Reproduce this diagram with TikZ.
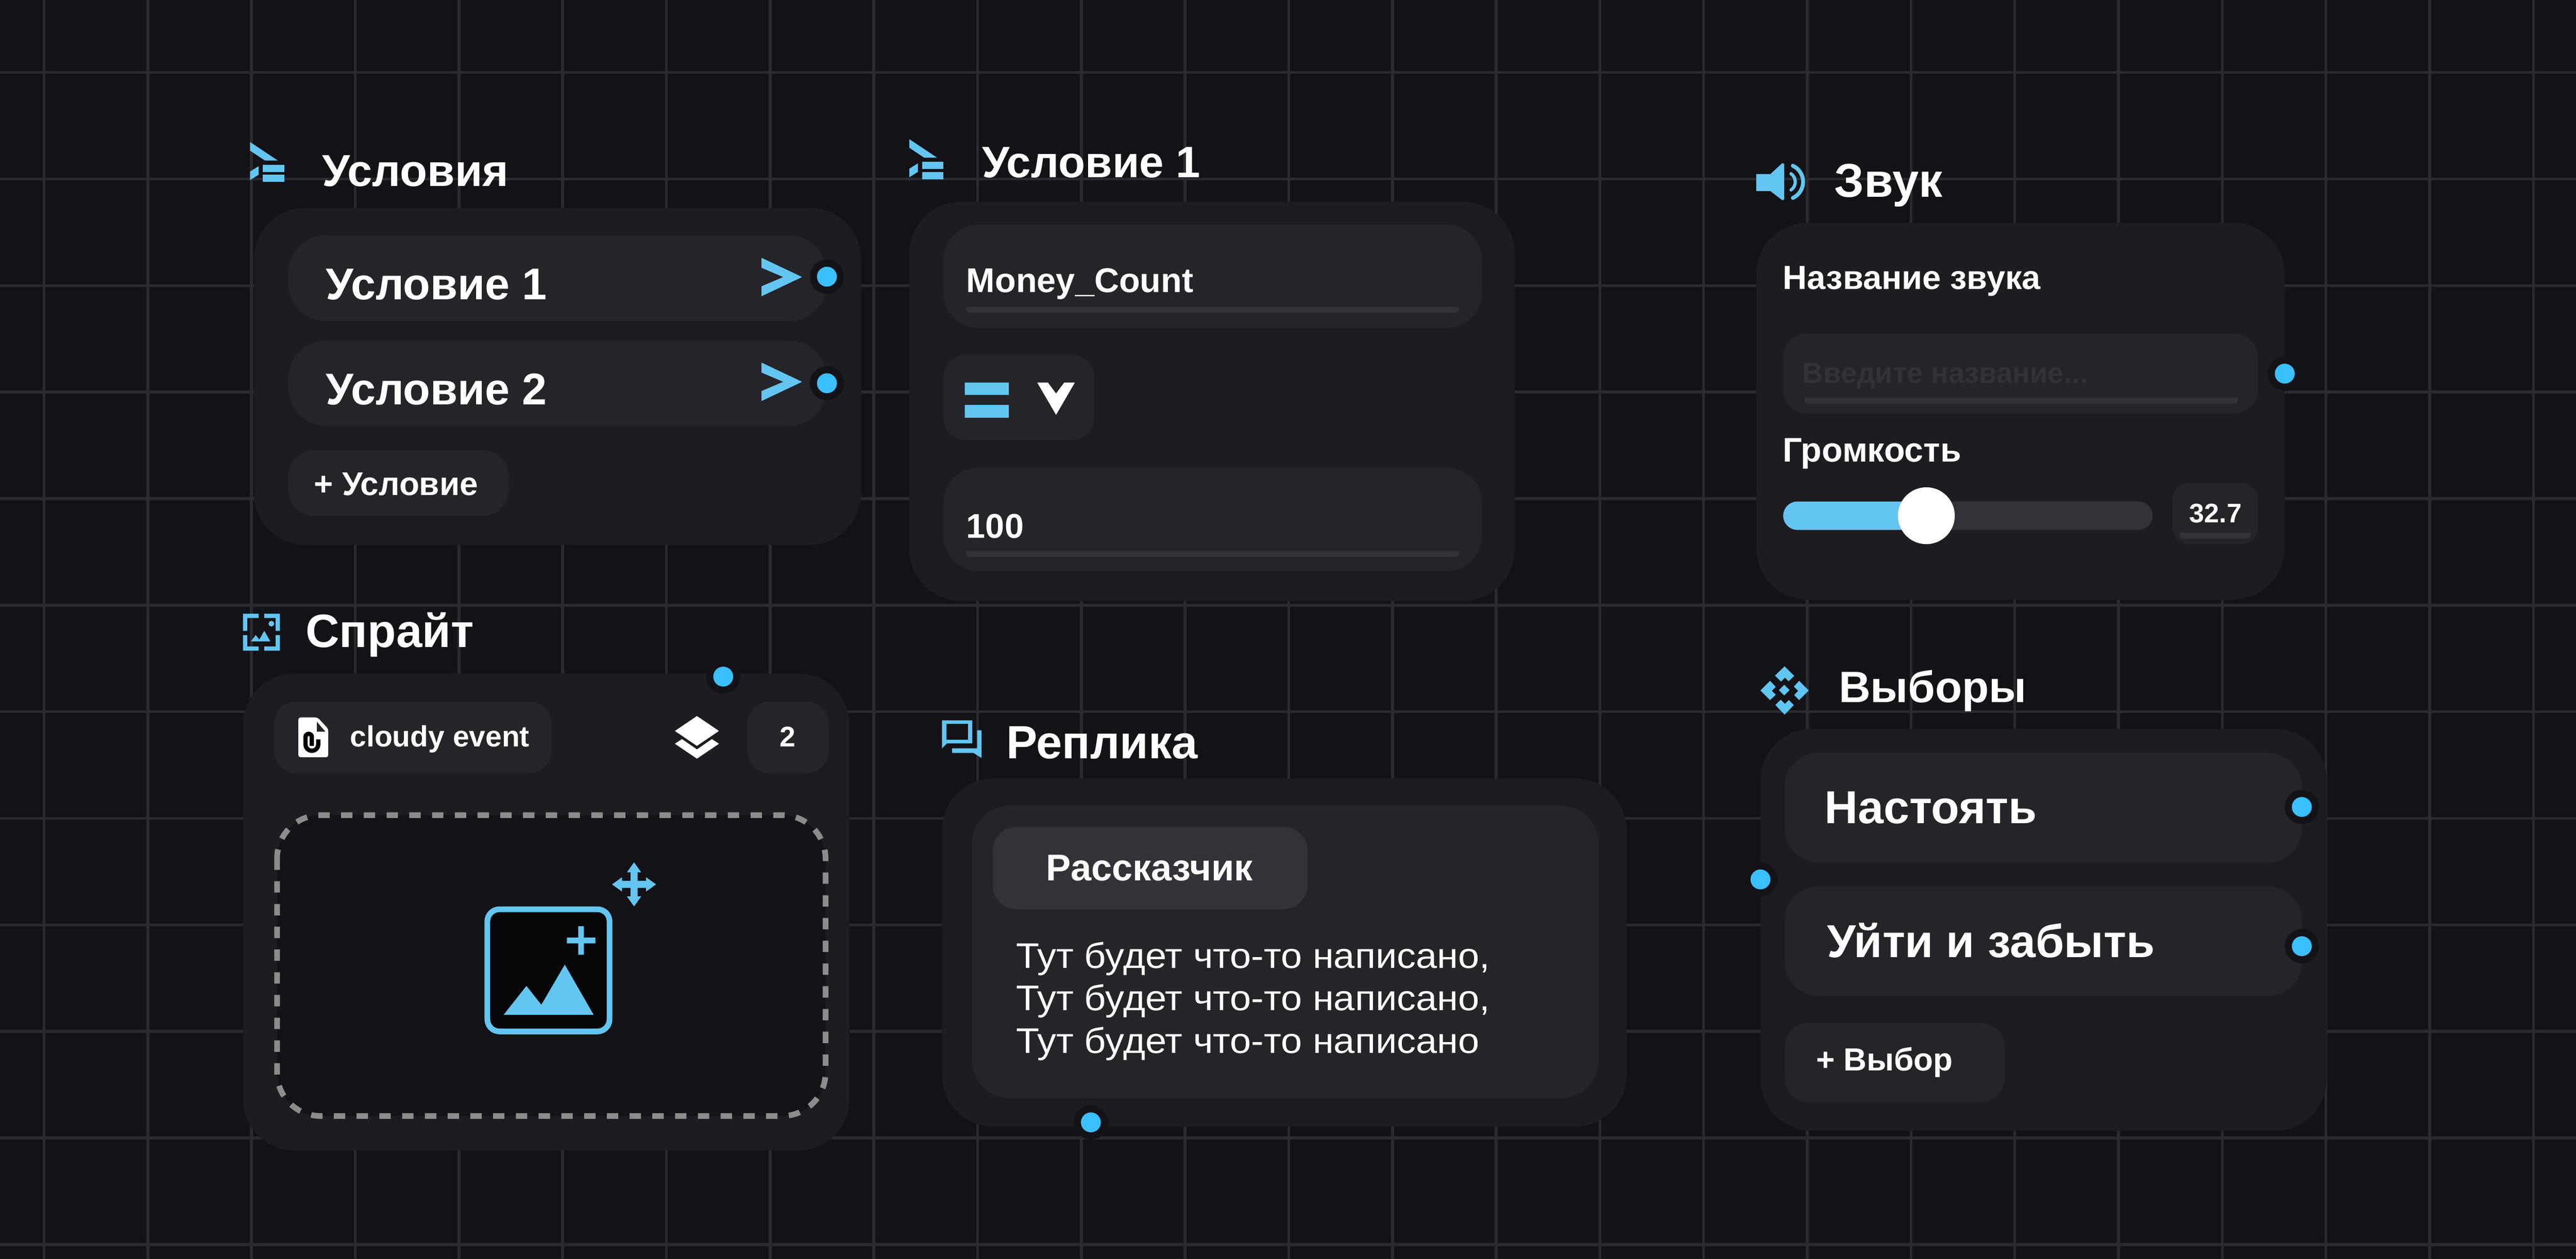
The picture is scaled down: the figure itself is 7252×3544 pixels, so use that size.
\documentclass[tikz,border=0pt]{standalone}
\usepackage{fontspec}
\setmainfont{Liberation Sans}
\newfontfamily\bodyfont[FakeStretch=1.07]{Liberation Sans}
\definecolor{canvasbg}{HTML}{121217}
\definecolor{gridcol}{HTML}{2A2A30}
\definecolor{panelbg}{HTML}{1C1C21}
\definecolor{itembg}{HTML}{242429}
\definecolor{raisedbg}{HTML}{323238}
\definecolor{iconblue}{HTML}{63C6F0}
\definecolor{portblue}{HTML}{3ABFFF}
\definecolor{dashgray}{HTML}{8C8C8E}
\tikzset{
  txt/.style={inner sep=0pt,anchor=base west,text=white,font=\fontsize{#1}{#1}\selectfont\bfseries},
  bodytxt/.style={inner sep=0pt,anchor=base west,text=white,font=\fontsize{28.5pt}{28.5pt}\bodyfont},
  gridline/.style={draw=gridcol,line width=0.08cm},
  panel/.style={fill=panelbg,rounded corners=1.45cm},
  item/.style={fill=itembg,rounded corners=#1},
}
\newcommand{\port}[2]{%
  \fill[canvasbg] (#1,#2) circle (0.48cm);
  \fill[portblue] (#1,#2) circle (0.28cm);}
\newcommand{\fieldline}[4]{%
  \fill[raisedbg] (#1,#3) -- (#2,#3) [rounded corners=0.08cm] -- (#2,#4) -- (#1,#4) [sharp corners] -- cycle;}
\newcommand{\condicon}[2]{%
  \begin{scope}[shift={(#1,#2)}]
    \fill[iconblue] (0,0) -- (78,52) -- (42,52) -- (0,24) -- cycle;
    \fill[iconblue] (0,83) -- (24,68) -- (24,92) -- (0,107) -- cycle;
    \fill[iconblue] (36,64) rectangle (96,84);
    \fill[iconblue] (36,92) rectangle (96,112);
  \end{scope}}
\newcommand{\sendicon}[1]{%
  \fill[iconblue] (2144,#1-54) -- (2258,#1) -- (2144,#1+54) -- (2144,#1+26) -- (2205,#1) -- (2144,#1-26) -- cycle;}
\begin{document}
\begin{tikzpicture}[x=0.01cm,y=-0.01cm]
  \useasboundingbox (0,0) rectangle (7252,3544);
  \fill[canvasbg] (0,0) rectangle (7252,3544);
  % grid
  \foreach \gx in {0,...,24}
    \draw[gridline] ({124+292*\gx},0) -- ({124+292*\gx},3544);
  \foreach \gy in {0,...,11}
    \draw[gridline] (0,{204+300*\gy}) -- (7252,{204+300*\gy});

  % conditions
  \condicon{704}{400}
  \node[txt=35.8pt] (condTitle) at (907,524) {Условия};
  \fill[panel] (715,585) rectangle (2424,1534);
  \fill[item=1.05cm] (812,663) rectangle (2327,904);
  \fill[item=1.05cm] (812,959) rectangle (2327,1199);
  \fill[item=0.72cm] (812,1268) rectangle (1432,1452);
  \node[txt=35.6pt] (condOne) at (917,843) {Условие 1};
  \node[txt=35.6pt] (condTwo) at (917,1139) {Условие 2};
  \node[txt=26.3pt] (condAdd) at (883,1394) {+ Условие};
  \sendicon{780}
  \sendicon{1075}
  \port{2328}{779}
  \port{2328}{1079}

  % sprite
  \fill[iconblue] (684,1728) rectangle (728,1740) (684,1728) rectangle (696,1776);
  \fill[iconblue] (744,1728) rectangle (788,1740) (776,1728) rectangle (788,1776);
  \fill[iconblue] (684,1820) rectangle (728,1832) (684,1788) rectangle (696,1832);
  \fill[iconblue] (744,1820) rectangle (788,1832) (776,1788) rectangle (788,1832);
  \fill[iconblue] (764,1756) circle (0.08cm);
  \fill[iconblue] (706,1806) -- (720,1788) -- (730,1801) -- (744,1776) -- (761,1806) -- cycle;
  \node[txt=37.4pt] (spriteTitle) at (860,1822) {Спрайт};
  \fill[panel] (684,1896) rectangle (2392,3239);
  \fill[item=0.6cm] (772,1976) rectangle (1552,2176);
  \fill[item=0.6cm] (2104,1976) rectangle (2332,2176);
  \fill[white,rounded corners=0.06cm] (840,2020) -- (894,2020) -- (924,2052) -- (924,2132) -- (840,2132) -- cycle;
  \fill[itembg] (892,2032) -- (916,2060) -- (892,2060) -- cycle;
  \draw[black,line width=0.12cm] (896,2082) -- (896,2096) arc[start angle=0,end angle=180,radius=18]
    -- (860,2075) arc[start angle=180,end angle=360,radius=9] -- (878,2100);
  \node[txt=23.5pt] (spriteName) at (985,2102) {cloudy event};
  \fill[white] (1962,2016) -- (2024,2058) -- (1962,2100) -- (1900,2058) -- cycle;
  \fill[white] (1900,2094) -- (1920,2081) -- (1962,2110) -- (2004,2081) -- (2024,2094) -- (1962,2136) -- cycle;
  \node[txt=22.8pt,anchor=base] (spriteCount) at (2218,2102) {2};
  \port{2036}{1905}
  \fill[canvasbg,rounded corners=1.22cm] (780,2295) rectangle (2324,3142);
  \draw[dashgray,line width=0.16cm,dash pattern=on 0.32cm off 0.32cm,rounded corners=1.22cm] (780,2295) rectangle (2324,3142);
  \draw[iconblue,fill=black!60!canvasbg,line width=0.16cm,rounded corners=0.34cm] (1372,2560) rectangle (1716,2904);
  \fill[iconblue] (1596,2640) rectangle (1676,2656) (1628,2608) rectangle (1644,2688);
  \fill[iconblue] (1418,2857) -- (1482,2776) -- (1524,2829) -- (1590,2716) -- (1671,2857) -- cycle;
  \foreach \ang in {0,90,180,270}
    \fill[iconblue,shift={(1785,2490)},rotate=\ang] (-10,0) -- (-10,-34) -- (-20,-34) -- (0,-62) -- (20,-34) -- (10,-34) -- (10,0) -- cycle;

  % condition detail
  \condicon{2560}{392}
  \node[txt=35.2pt] (detailTitle) at (2764,500) {Условие 1};
  \fill[panel] (2560,568) rectangle (4264,1692);
  \fill[item=1cm] (2656,632) rectangle (4172,924);
  \fieldline{2720}{4108}{864}{880}
  \node[txt=27.5pt] (detailVar) at (2720,823) {Money\_Count};
  \fill[item=0.6cm] (2656,1000) rectangle (3080,1239);
  \fill[iconblue] (2716,1077) rectangle (2840,1112) (2716,1140) rectangle (2840,1176);
  \fill[white] (2920,1077) -- (2950,1077) -- (2973,1108) -- (2996,1077) -- (3026,1077) -- (2973,1168) -- cycle;
  \fill[item=1cm] (2656,1316) rectangle (4172,1608);
  \fieldline{2720}{4108}{1552}{1568}
  \node[txt=27.5pt] (detailValue) at (2720,1515) {100};

  % line
  \fill[iconblue,even odd rule] (2652,2028) -- (2737,2028) -- (2737,2093) -- (2666,2093) -- (2652,2107) -- cycle
    (2664,2038) rectangle (2725,2083);
  \fill[iconblue] (2751,2056) -- (2763,2056) -- (2763,2134) -- (2741,2120) -- (2680,2120) -- (2680,2107) -- (2751,2107) -- cycle;
  \node[txt=37.3pt] (lineTitle) at (2832,2136) {Реплика};
  \fill[panel] (2652,2192) rectangle (4579,3172);
  \fill[item=1.05cm] (2737,2268) rectangle (4500,3092);
  \fill[raisedbg,rounded corners=0.67cm] (2795,2328) rectangle (3681,2560);
  \node[txt=29.8pt] (lineSpeaker) at (2945,2479) {Рассказчик};
  \node[bodytxt] (lineA) at (2860,2726) {Тут будет что-то написано,};
  \node[bodytxt] (lineB) at (2860,2845) {Тут будет что-то написано,};
  \node[bodytxt] (lineC) at (2860,2966) {Тут будет что-то написано};
  \port{3071}{3160}

  % sound
  \fill[iconblue] (4944,490) -- (4984,490) -- (5018,459) -- (5023,462) -- (5023,561) -- (5018,564) -- (4984,538) -- (4944,538) -- cycle;
  \draw[iconblue,line width=0.09cm,line cap=round] (5026,512) ++(-55:28) arc[start angle=-55,end angle=55,radius=28];
  \draw[iconblue,line width=0.11cm,line cap=round] (5026,512) ++(-65:50) arc[start angle=-65,end angle=65,radius=50];
  \node[txt=38pt] (soundTitle) at (5164,555) {Звук};
  \fill[panel] (4944,627) rectangle (6432,1688);
  \node[txt=26.8pt] (soundName) at (5019,815) {Название звука};
  \fill[item=0.65cm] (5020,940) rectangle (6356,1164);
  \fieldline{5080}{6299}{1120}{1136}
  \node[txt=23.1pt,text=raisedbg] (soundHint) at (5074,1079) {Введите название...};
  \port{6432}{1052}
  \node[txt=27.3pt] (soundVolume) at (5019,1300) {Громкость};
  \fill[raisedbg,rounded corners=0.4cm] (5020,1412) rectangle (6060,1492);
  \fill[iconblue,rounded corners=0.4cm] (5020,1412) rectangle (5440,1492);
  \fill[white] (5423,1452) circle (0.8cm);
  \fill[item=0.45cm] (6116,1360) rectangle (6356,1532);
  \fieldline{6136}{6336}{1500}{1516}
  \node[txt=21.5pt] (soundLevel) at (6163,1472) {32.7};

  % choices
  \fill[iconblue!90!portblue] (5024,1876) -- (5051,1903) -- (5035,1918) -- (5025,1908) -- (5014,1919) -- (4997,1902) -- cycle;
  \fill[iconblue!90!portblue] (4956,1944) -- (4983,1917) -- (4999,1934) -- (4988,1945) -- (4999,1956) -- (4983,1971) -- cycle;
  \fill[iconblue!90!portblue] (5092,1944) -- (5065,1917) -- (5050,1933) -- (5062,1945) -- (5051,1957) -- (5065,1971) -- cycle;
  \fill[iconblue!90!portblue] (5024,2012) -- (5050,1985) -- (5036,1971) -- (5025,1982) -- (5013,1970) -- (4998,1985) -- cycle;
  \fill[iconblue!90!portblue] (5023,1928) -- (5038,1943) -- (5023,1958) -- (5008,1943) -- cycle;
  \node[txt=35.2pt] (choiceTitle) at (5176,1978) {Выборы};
  \fill[panel] (4956,2052) rectangle (6550,3184);
  \fill[item=0.95cm] (5024,2120) rectangle (6480,2428);
  \fill[item=0.95cm] (5024,2496) rectangle (6480,2804);
  \fill[item=0.67cm] (5024,2880) rectangle (5643,3104);
  \node[txt=37pt] (choiceOne) at (5136,2318) {Настоять};
  \node[txt=37pt] (choiceTwo) at (5143,2695) {Уйти и забыть};
  \node[txt=25.6pt] (choiceAdd) at (5112,3014) {+ Выбор};
  \port{6480}{2272}
  \port{6480}{2664}
  \port{4956}{2476}
\end{tikzpicture}
\end{document}
